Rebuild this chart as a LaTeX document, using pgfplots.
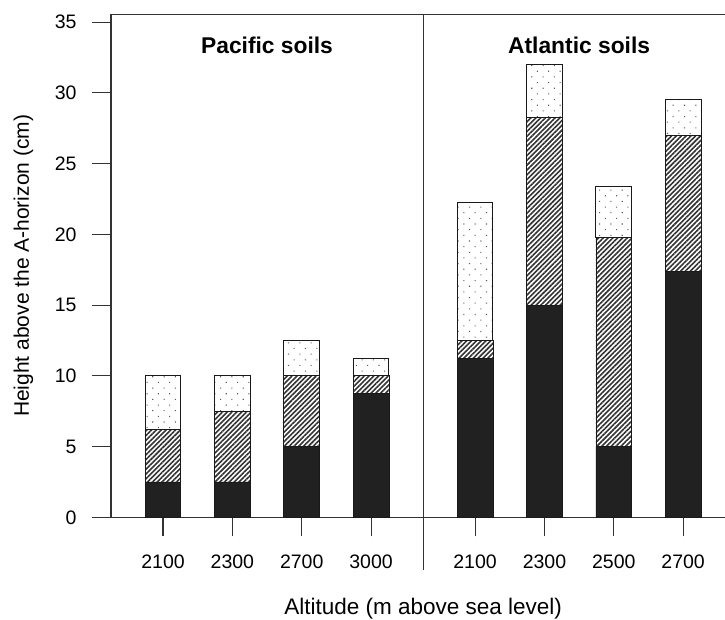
\documentclass[border=0pt]{standalone}
\usepackage{fontspec}
\setmainfont{Liberation Sans}
\usepackage{pgfplots}
\pgfplotsset{compat=1.18}
\usepackage{pgfplotstable}
\usetikzlibrary{patterns.meta}

\pgfplotstableread{
x black hatch dots
0 2.5 3.7 3.8
1 2.5 5.0 2.5
2 5.0 5.0 2.5
3 8.75 1.25 1.2
4.5 11.25 1.25 9.75
5.5 15 13.25 3.75
6.5 5 14.8 3.6
7.5 17.4 9.6 2.5
}\soils

\begin{document}
\begin{tikzpicture}
\begin{axis}[
  scale only axis, width=624.15pt, height=503pt,
  xmin=-0.75, xmax=8.25, ymin=0, ymax=35.55,
  ybar stacked, bar width=35.7pt,
  xtick={0,1,2,3,4.5,5.5,6.5,7.5},
  xticklabels={2100,2300,2700,3000,2100,2300,2500,2700},
  ytick={0,5,...,35},
  tick pos=left,
  tick align=outside, major tick length=19pt,
  tick style={line width=1.1pt, black!80},
  axis line style={line width=1.1pt, black!80},
  /pgf/number format/assume math mode=true,
  tick label style={font=\fontsize{19.5}{20}\selectfont},
  yticklabel style={inner sep=0pt, anchor=east, xshift=-15.3pt},
  xticklabel style={inner sep=0pt, anchor=north, yshift=-18.7pt},
  clip=false,
]
\addplot[fill=black!87, draw=black!90, line width=0.8pt] table[x=x,y=black]{\soils};
\addplot[pattern={Lines[angle=45,distance=3.4pt,line width=1.6pt]}, pattern color=black!80, draw=black!90, line width=0.8pt] table[x=x,y=hatch]{\soils};
\addplot[pattern={Dots[angle=45,distance=8pt,radius=0.75pt]}, pattern color=black!65, draw=black!90, line width=0.9pt] table[x=x,y=dots]{\soils};
\coordinate (o) at (rel axis cs:0,0);
\draw[line width=1.1pt, black!80] ([xshift=-19pt]rel axis cs:0,0) -- (rel axis cs:0,0);
\draw[line width=1.1pt, black!80] (axis cs:3.75,35.55) -- ([yshift=-53pt]axis cs:3.75,0);
\node[anchor=base, font=\bfseries\fontsize{22.8}{24}\selectfont] at (axis cs:1.5,32.8) {Pacific soils};
\node[anchor=base, font=\bfseries\fontsize{22.8}{24}\selectfont] at (axis cs:6.0,32.8) {Atlantic soils};
\node[anchor=base, font=\fontsize{22.5}{24}\selectfont] at ([yshift=-97.5pt]axis cs:3.75,0) {Altitude (m above sea level)};
\node[anchor=base, rotate=90, font=\fontsize{21}{24}\selectfont] at ([xshift=-82pt]rel axis cs:0,0.5) {Height above the A-horizon (cm)};
\end{axis}
\pgfresetboundingbox
\path[use as bounding box] ([shift={(-111pt,-102.7pt)}]o) rectangle ([shift={(614pt,517.3pt)}]o);
\end{tikzpicture}
\end{document}
